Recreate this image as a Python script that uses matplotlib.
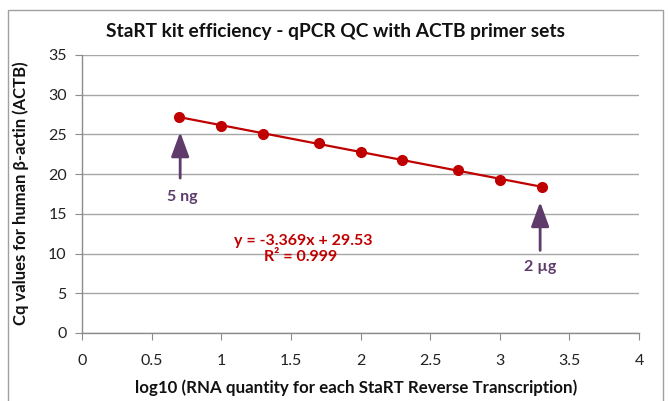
import matplotlib
matplotlib.use("Agg")
import matplotlib.pyplot as plt
from matplotlib.patches import Rectangle

# ---- data ----
log_qty = [0.7, 1.0, 1.3, 1.7, 2.0, 2.3, 2.7, 3.0, 3.3]
cq_values = [27.2, 26.1, 25.1, 23.9, 22.8, 21.8, 20.5, 19.3, 18.4]
slope = -3.369
intercept = 29.53
r2 = 0.999
x_ticks = [0, 0.5, 1, 1.5, 2, 2.5, 3, 3.5, 4]
x_tick_labels = ["0", "0.5", "1", "1.5", "2", "2.5", "3", "3.5", "4"]
y_ticks = [0, 5, 10, 15, 20, 25, 30, 35]

plt.rcParams['font.family'] = ['Lato', 'DejaVu Sans']

RED = '#c00000'
PURPLE = '#5f3b6b'
GRID = '#a6a6a6'

fig = plt.figure(figsize=(6.68, 4.01), dpi=100)
fig.patch.set_facecolor('white')
fig.add_artist(Rectangle((8/668, -0.02), (663-8)/668, (396-5)/401 + 0.02,
                         transform=fig.transFigure, fill=False,
                         edgecolor='#a0a0a0', linewidth=1.0))

ax = fig.add_axes([82/668, (401-333)/401, (639-82)/668, (333-55)/401])
ax.set_xlim(0, 4)
ax.set_ylim(0, 35)
ax.set_xticks(x_ticks)
ax.set_xticklabels(x_tick_labels)
ax.set_yticks(y_ticks)
ax.grid(axis='y', color=GRID, linewidth=1.0)
ax.set_axisbelow(True)
for s in ['top', 'right']:
    ax.spines[s].set_visible(False)
for s in ['left', 'bottom']:
    ax.spines[s].set_color('#8c8c8c')
    ax.spines[s].set_linewidth(1.0)
ax.tick_params(axis='both', direction='out', length=5, color='#8c8c8c',
               labelsize=11.5, labelcolor='#222222', pad=6)
ax.tick_params(axis='x', pad=10)

# trendline
xs = [log_qty[0], log_qty[-1]]
ax.plot(xs, [slope * v + intercept for v in xs], color=RED, linewidth=1.6, zorder=3)
ax.plot(log_qty, cq_values, 'o', color=RED, markersize=7, zorder=4)

# equation
ax.text(1.59, 11.6, "y = -3.369x + 29.53", color=RED, fontsize=11.5,
        fontweight='bold', ha='center', va='center')
ax.text(1.57, 9.6, "R\u00b2 = 0.999", color=RED, fontsize=11.5,
        fontweight='bold', ha='center', va='center')

# arrows
arrow_kw = dict(arrowstyle='-|>,head_width=0.55,head_length=1.5', color=PURPLE, lw=2.0,
                shrinkA=0, shrinkB=0)
ax.annotate("", xy=(0.705, 25.3), xytext=(0.705, 19.5), arrowprops=arrow_kw)
ax.text(0.72, 17.1, "5 ng", color=PURPLE, fontsize=11.5, fontweight='bold',
        ha='center', va='center')
ax.annotate("", xy=(3.29, 16.5), xytext=(3.29, 10.4), arrowprops=arrow_kw)
ax.text(3.29, 8.3, "2 \u00b5g", color=PURPLE, fontsize=11.5, fontweight='bold',
        ha='center', va='center')

fig.text(336/668, 1 - 32/401, "StaRT kit efficiency - qPCR QC with ACTB primer sets",
         ha='center', va='center', fontsize=13.8, fontweight='bold', color='#111111')
fig.text(356/668, 1 - 388/401, "log10 (RNA quantity for each StaRT Reverse Transcription)",
         ha='center', va='center', fontsize=12.2, fontweight='bold', color='#111111')
fig.text(21/668, 1 - 193/401, "Cq values for human \u03b2-actin (ACTB)",
         ha='center', va='center', rotation=90, fontsize=12, fontweight='bold',
         color='#111111')

fig.savefig("out.png", dpi=100)
